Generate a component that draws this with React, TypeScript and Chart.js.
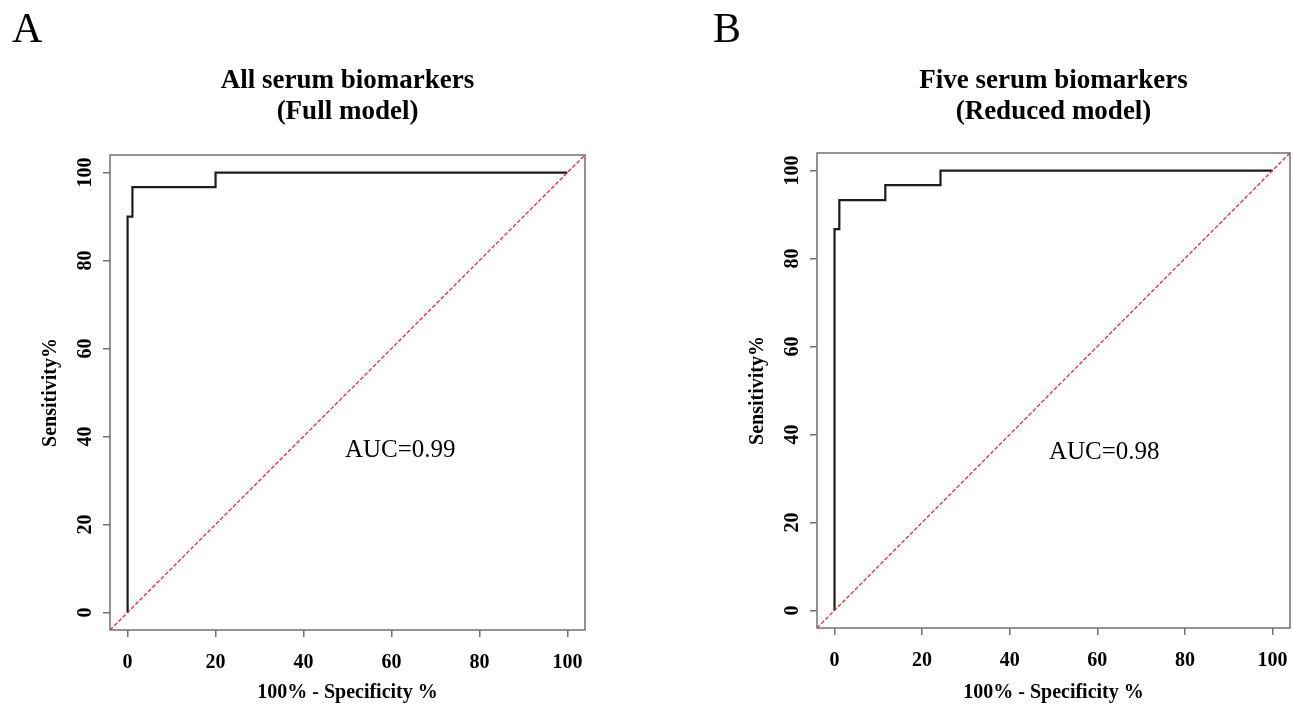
import React, { useEffect, useRef } from "react";
import { Chart, registerables } from "chart.js";

Chart.register(...registerables);

// ---------- data ----------
const tickValues = [0, 20, 40, 60, 80, 100];
const axisMin = -4;
const axisMax = 104;

// ROC curve A (full model): 100% - specificity vs sensitivity
const fprFull = [0, 0, 1.1, 1.1, 20, 20, 100];
const tprFull = [0, 90, 90, 96.7, 96.7, 100, 100];

// ROC curve B (reduced model)
const fprReduced = [0, 0, 1.1, 1.1, 11.6, 11.6, 24.2, 24.2, 100];
const tprReduced = [0, 86.7, 86.7, 93.3, 93.3, 96.7, 96.7, 100, 100];

// reference diagonal (chance line)
const diagonalX = [-4, 104];
const diagonalY = [-4, 104];

const panelLetters = ["A", "B"];
const titlesFull = ["All serum biomarkers", "(Full model)"];
const titlesReduced = ["Five serum biomarkers", "(Reduced model)"];
const aucLabels = ["AUC=0.99", "AUC=0.98"];
const aucX = [62, 61.6];
const aucY = [36.8, 36];
const xTitle = "100% - Specificity %";
const yTitle = "Sensitivity%";

const SERIF = '"Liberation Serif", "Times New Roman", serif';
const AXIS_GREY = "#707070";

type PanelProps = {
  left: number;
  width: number;
  padLeft: number;
  padRight: number;
  padTop: number;
  xAxisH: number;
  letter: string;
  letterX: number;
  titles: string[];
  fpr: number[];
  tpr: number[];
  auc: string;
  aucPx: number;
  aucPy: number;
};

function Panel(p: PanelProps) {
  const ref = useRef<HTMLCanvasElement | null>(null);
  useEffect(() => {
    const canvas = ref.current;
    if (!canvas) return;
    const textPlugin = {
      id: "rocText",
      afterDatasetsDraw(chart: any) {
        const { ctx, chartArea } = chart;
        ctx.save();
        ctx.strokeStyle = AXIS_GREY;
        ctx.lineWidth = 1.5;
        ctx.strokeRect(chartArea.left, chartArea.top, chartArea.right - chartArea.left, chartArea.bottom - chartArea.top);
        ctx.restore();
      },
      afterDraw(chart: any) {
        const { ctx, chartArea, scales } = chart;
        ctx.save();
        ctx.fillStyle = "#000";
        const cx = (chartArea.left + chartArea.right) / 2;
        ctx.textAlign = "center";
        ctx.textBaseline = "alphabetic";
        ctx.font = `bold 27px ${SERIF}`;
        ctx.fillText(p.titles[0], cx, 88);
        ctx.fillText(p.titles[1], cx, 119);
        ctx.textAlign = "left";
        ctx.font = `42px ${SERIF}`;
        ctx.fillText(p.letter, p.letterX, 42);
        ctx.textAlign = "center";
        ctx.textBaseline = "middle";
        ctx.font = `25px ${SERIF}`;
        ctx.fillText(p.auc, scales.x.getPixelForValue(p.aucPx), scales.y.getPixelForValue(p.aucPy));
        ctx.restore();
      },
    };

    const tickFont = { family: SERIF, size: 20, weight: "bold" as const };
    const chart = new Chart(canvas, {
      type: "scatter",
      data: {
        datasets: [
          {
            data: diagonalX.map((x, i) => ({ x, y: diagonalY[i] })),
            showLine: true,
            borderColor: "rgb(235, 40, 40)",
            backgroundColor: "rgb(235, 40, 40)",
            borderWidth: 1.3,
            borderDash: [4, 2],
            pointRadius: 0,
            tension: 0,
            fill: false,
          },
          {
            data: p.fpr.map((x, i) => ({ x, y: p.tpr[i] })),
            showLine: true,
            borderColor: "#1c1c1c",
            backgroundColor: "#1c1c1c",
            borderWidth: 2.2,
            pointRadius: 0,
            tension: 0,
            fill: false,
            borderJoinStyle: "miter",
            borderCapStyle: "butt",
          },
        ],
      },
      options: {
        responsive: false,
        animation: false,
        devicePixelRatio: 1,
        layout: { padding: { left: p.padLeft, right: p.padRight, top: p.padTop, bottom: 0 } },
        plugins: { legend: { display: false }, tooltip: { enabled: false }, title: { display: false } },
        scales: {
          x: {
            type: "linear",
            min: axisMin,
            max: axisMax,
            afterBuildTicks: (s: any) => {
              s.ticks = tickValues.map((v) => ({ value: v }));
            },
            afterFit: (s: any) => {
              s.height = p.xAxisH;
              s.paddingLeft = 0;
              s.paddingRight = 0;
            },
            grid: { drawOnChartArea: false, drawTicks: true, tickLength: 7, color: AXIS_GREY, lineWidth: 1.5 },
            border: { display: false },
            ticks: { font: tickFont, color: "#000", padding: 14, maxRotation: 0, minRotation: 0 },
            title: { display: true, text: xTitle, font: { family: SERIF, size: 20, weight: "bold" }, color: "#000", padding: { top: 0, bottom: 3 } },
          },
          y: {
            type: "linear",
            min: axisMin,
            max: axisMax,
            afterBuildTicks: (s: any) => {
              s.ticks = tickValues.map((v) => ({ value: v }));
            },
            afterFit: (s: any) => {
              s.width = 110;
              s.paddingTop = 0;
              s.paddingBottom = 0;
            },
            grid: { drawOnChartArea: false, drawTicks: true, tickLength: 7, color: AXIS_GREY, lineWidth: 1.5 },
            border: { display: false },
            ticks: { font: tickFont, color: "#000", padding: 2, minRotation: 90, maxRotation: 90, crossAlign: "center" },
            title: { display: true, text: yTitle, font: { family: SERIF, size: 20, weight: "bold" }, color: "#000", padding: { top: 39, bottom: 0 } },
          },
        },
      } as any,
      plugins: [textPlugin],
    });
    return () => chart.destroy();
  }, []);
  return (
    <canvas
      ref={ref}
      width={p.width}
      height={708}
      style={{ position: "absolute", left: p.left, top: 0, width: p.width, height: 708 }}
    />
  );
}

export default function App() {
  return (
    <div style={{ position: "fixed", left: 0, top: 0, width: 1293, height: 708, background: "#fff", overflow: "hidden" }}>
      <Panel
        left={0}
        width={646}
        padLeft={0}
        padRight={61}
        padTop={155}
        xAxisH={78}
        letter={panelLetters[0]}
        letterX={12}
        titles={titlesFull}
        fpr={fprFull}
        tpr={tprFull}
        auc={aucLabels[0]}
        aucPx={aucX[0]}
        aucPy={aucY[0]}
      />
      <Panel
        left={646}
        width={647}
        padLeft={61}
        padRight={3}
        padTop={153}
        xAxisH={80}
        letter={panelLetters[1]}
        letterX={67}
        titles={titlesReduced}
        fpr={fprReduced}
        tpr={tprReduced}
        auc={aucLabels[1]}
        aucPx={aucX[1]}
        aucPy={aucY[1]}
      />
    </div>
  );
}
